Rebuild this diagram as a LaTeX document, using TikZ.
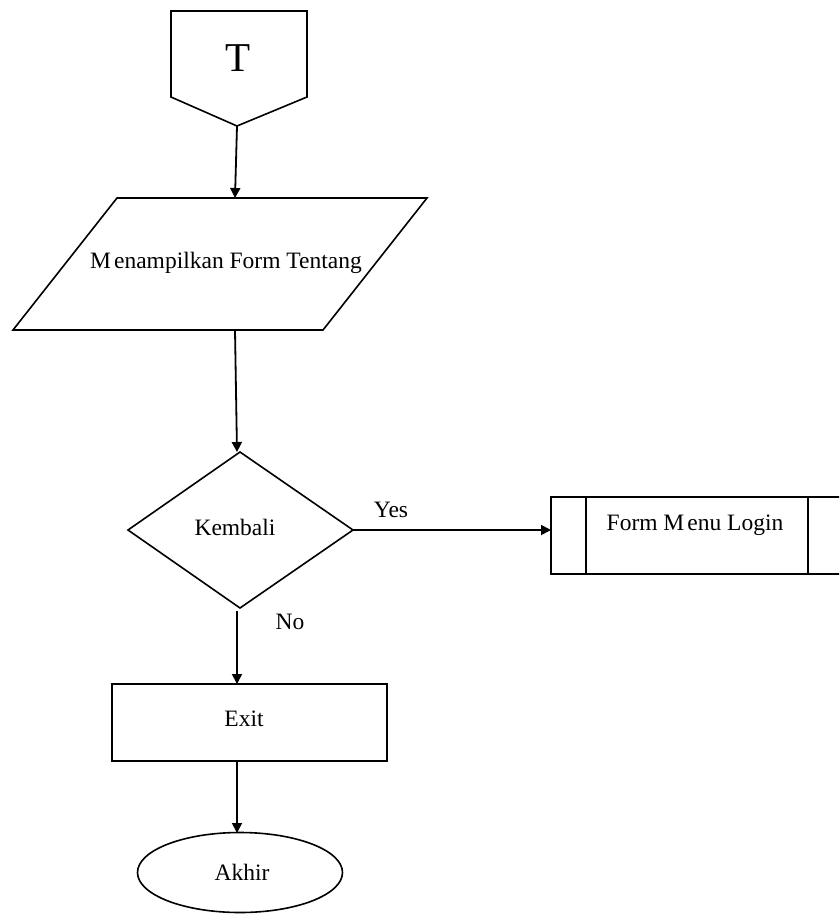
\documentclass[tikz,border=0pt]{standalone}
\usepackage{fontspec}
\setmainfont{Liberation Serif}
\usetikzlibrary{arrows.meta}
\begin{document}
\begin{tikzpicture}[x=1pt,y=-1pt,
  shapeline/.style={line width=1.6pt, line join=miter},
  conn/.style={line width=1.8pt, -{Triangle[length=10pt,width=10pt]}},
  lbl/.style={font=\fontsize{23.5}{27}\selectfont, inner sep=0pt},
  big/.style={font=\fontsize{41}{44}\selectfont, inner sep=0pt}]
\useasboundingbox (0,0) rectangle (839,914);
\clip (0,0) rectangle (839,914);
% off-page connector
\draw[shapeline] (171,11) -- (307,11) -- (307,97) -- (237,126) -- (171,97) -- cycle;
\coordinate (tb) at (237,126);
\node[big] (T) at (238,58) {T};
% parallelogram
\draw[shapeline] (117,198) -- (427,198) -- (323,330) -- (13,330) -- cycle;
\coordinate (pt) at (235,198);
\coordinate (pb) at (235,330);
\node[lbl] (pm) at (226,263) {M\kern3pt enampilkan Form Tentang};
% decision
\draw[shapeline] (240,452) -- (353,530) -- (240,608) -- (128,530) -- cycle;
\coordinate (dt) at (237,452);
\coordinate (dr) at (353,530);
\coordinate (db) at (237,611);
\node[lbl] (kb) at (235,527) {Kembali};
% predefined process
\draw[shapeline] (551,497) rectangle (843,574);
\draw[shapeline] (586,497) -- (586,574);
\draw[shapeline] (808,497) -- (808,574);
\coordinate (pl) at (551,530);
\node[lbl] (fm) at (695,525) {Form M\kern3pt enu Login};
% exit
\draw[shapeline] (112,684) rectangle (387,761);
\coordinate (et) at (237,684);
\coordinate (eb) at (237,761);
\node[lbl] (ex) at (244,719) {Exit};
% terminator
\draw[shapeline] (240,872.5) ellipse [x radius=102.5, y radius=40];
\coordinate (at) at (237,833);
\node[lbl] (ak) at (242,872) {Akhir};
% connectors
\draw[conn] (tb) -- (pt);
\draw[conn] (pb) -- (dt);
\draw[conn] (dr) -- (pl);
\draw[conn] (db) -- (et);
\draw[conn] (eb) -- (at);
\node[lbl] (yes) at (391,510) {Yes};
\node[lbl] (no) at (290,622) {No};
\end{tikzpicture}
\end{document}
